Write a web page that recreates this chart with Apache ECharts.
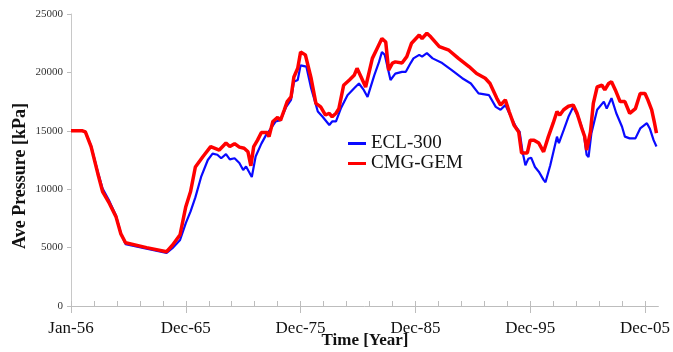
<!DOCTYPE html>
<html><head><meta charset="utf-8">
<script src="https://cdn.jsdelivr.net/npm/echarts@6/dist/echarts.min.js"></script>
<style>html,body{margin:0;padding:0;background:#fff}#c{width:673px;height:352px}</style>
</head><body><div id="c"></div>
<script>
// Month index counted from Jan-1956 (0 = Jan-56)
const tickMonths = [0, 120, 240, 360, 480, 600];
const tickLabels = ['Jan-56', 'Dec-65', 'Dec-75', 'Dec-85', 'Dec-95', 'Dec-05'];
const minorTickMonths = [0,24,48,72,96,120,144,168,192,216,240,264,288,312,336,360,384,408,432,456,480,504,528,552,576,600];

const eclMonths = [0,12,15,21,28,33,40,47,52,57,79,100,106,114,120,125,130,136,143,148,153,157,162,166,171,176,180,183,186,189,193,199,204,209,214,219,225,230,233,237,240,242,246,251,258,263,270,273,277,282,289,296,301,306,310,317,322,325,328,334,339,346,350,355,358,364,367,372,378,388,398,409,418,426,437,444,449,454,459,465,469,472,475,478,481,485,489,494,496,501,508,510,515,520,525,531,536,539,541,544,550,557,560,565,570,576,579,584,590,595,602,605,609,612];
const eclValues = [15000,15000,14900,13700,11500,10050,9000,7750,6250,5300,4900,4550,4950,5650,7100,8100,9300,11050,12500,13050,12950,12650,13000,12550,12650,12250,11650,11950,11500,11050,12800,13900,14650,15200,15800,15900,17050,17650,19200,19350,20600,20750,20500,18650,16650,16200,15500,15800,15800,16900,18050,18650,19050,18500,17900,19750,20900,21750,21500,19350,19900,20050,20050,20800,21200,21500,21350,21650,21200,20800,20200,19500,19050,18200,18050,17050,16800,17200,16350,15350,14900,13200,12050,12600,12700,11900,11500,10800,10600,12050,14500,13950,15050,16200,17050,16050,14800,12950,12750,14800,16800,17500,16900,17800,16500,15350,14500,14350,14350,15200,15650,15200,14200,13650];

const gemMonths = [0,12,15,21,28,33,40,47,52,57,79,100,106,114,120,125,130,138,146,155,162,166,171,176,181,185,188,191,195,199,205,207,211,216,219,223,226,230,233,237,240,242,245,251,256,261,266,270,273,277,280,285,291,296,299,303,308,315,320,325,329,332,336,339,346,351,356,364,367,372,376,385,395,405,416,424,433,438,445,449,454,458,463,468,471,477,480,484,489,494,499,504,508,511,515,520,525,529,534,537,539,543,546,550,555,558,562,565,569,574,579,584,590,595,600,603,607,610,612];
const gemValues = [15000,15000,14900,13650,11350,9800,8800,7650,6200,5420,5000,4650,5200,6100,8500,9800,11900,12800,13650,13350,13950,13650,13900,13600,13500,13200,12000,13650,14200,14850,14850,14500,15800,16150,15900,16800,17500,17900,19600,20350,21750,21900,21500,19500,17350,17050,16350,16500,16200,16500,16900,18900,19350,19750,20350,19650,18750,21200,22050,22900,22600,20200,20800,20900,20800,21350,22500,23200,22900,23350,23050,22200,21900,21200,20500,19900,19500,19050,17800,17200,17650,16650,15500,14900,13100,13100,14200,14200,13950,13200,14500,15650,16650,16350,16800,17100,17200,16500,15200,14500,13350,14900,17350,18750,18900,18500,19050,19200,18500,17500,17500,16500,16900,18200,18200,17650,16800,15650,14800];

const seriesNames = ['ECL-300', 'CMG-GEM'];
const seriesColors = ['#0a0aff', '#ff0000'];
const yTitle = 'Ave Pressure [kPa]';
const xTitle = 'Time [Year]';

function pairs(ms, vs) { return ms.map((m, i) => [m, vs[i]]); }

const chart = echarts.init(document.getElementById('c'), null, {renderer: 'canvas'});
const serif = 'Liberation Serif, Times New Roman, serif';
chart.setOption({
  animation: false,
  backgroundColor: '#fff',
  grid: {left: 71, right: 13, top: 14, bottom: 46, containLabel: false},
  legend: {
    orient: 'vertical', left: 348, top: 134, padding: 0, itemWidth: 18, itemHeight: 3, itemGap: 1,
    textStyle: {fontFamily: serif, fontSize: 19, color: '#111', lineHeight: 19},
    data: seriesNames.map((n, i) => ({name: n, icon: 'rect', itemStyle: {color: seriesColors[i]}}))
  },
  xAxis: [{
    type: 'value', min: 0, max: 614, position: 'bottom',
    axisLine: {show: true, onZero: false, lineStyle: {color: '#bdbdbd', width: 1}},
    axisTick: {show: true, inside: false, length: 7, customValues: tickMonths, lineStyle: {color: '#bdbdbd'}},
    axisLabel: {customValues: tickMonths, margin: 14, fontFamily: serif, fontSize: 17, color: '#111',
      formatter: v => { const i = tickMonths.indexOf(Math.round(v)); return i >= 0 ? tickLabels[i] : ''; }},
    splitLine: {show: false}
  }, {
    type: 'value', min: 0, max: 614, position: 'bottom',
    axisLine: {show: false, onZero: false},
    axisTick: {show: true, inside: true, length: 5, customValues: minorTickMonths, lineStyle: {color: '#bdbdbd'}},
    axisLabel: {show: false},
    splitLine: {show: false}
  }],
  yAxis: {
    type: 'value', min: 0, max: 25000, interval: 5000,
    axisLine: {show: true, lineStyle: {color: '#c8c8c8'}},
    axisTick: {show: true, length: 4, lineStyle: {color: '#bdbdbd'}},
    axisLabel: {margin: 8, fontFamily: serif, fontSize: 11, color: '#333', formatter: v => String(v)},
    splitLine: {show: false}
  },
  graphic: [
    {type: 'text', x: 20, y: 176, rotation: Math.PI / 2,
      style: {text: yTitle, font: 'bold 18px ' + serif, fill: '#111', textAlign: 'center', textVerticalAlign: 'middle'}},
    {type: 'text', x: 365, y: 341,
      style: {text: xTitle, font: 'bold 17px ' + serif, fill: '#111', textAlign: 'center', textVerticalAlign: 'middle'}}
  ],
  series: [
    {name: seriesNames[0], type: 'line', xAxisIndex: 0, symbol: 'none', data: pairs(eclMonths, eclValues),
      lineStyle: {color: seriesColors[0], width: 2.2}, itemStyle: {color: seriesColors[0]}},
    {name: seriesNames[1], type: 'line', xAxisIndex: 0, symbol: 'none', data: pairs(gemMonths, gemValues),
      lineStyle: {color: seriesColors[1], width: 3.5}, itemStyle: {color: seriesColors[1]}}
  ]
});
</script></body></html>
